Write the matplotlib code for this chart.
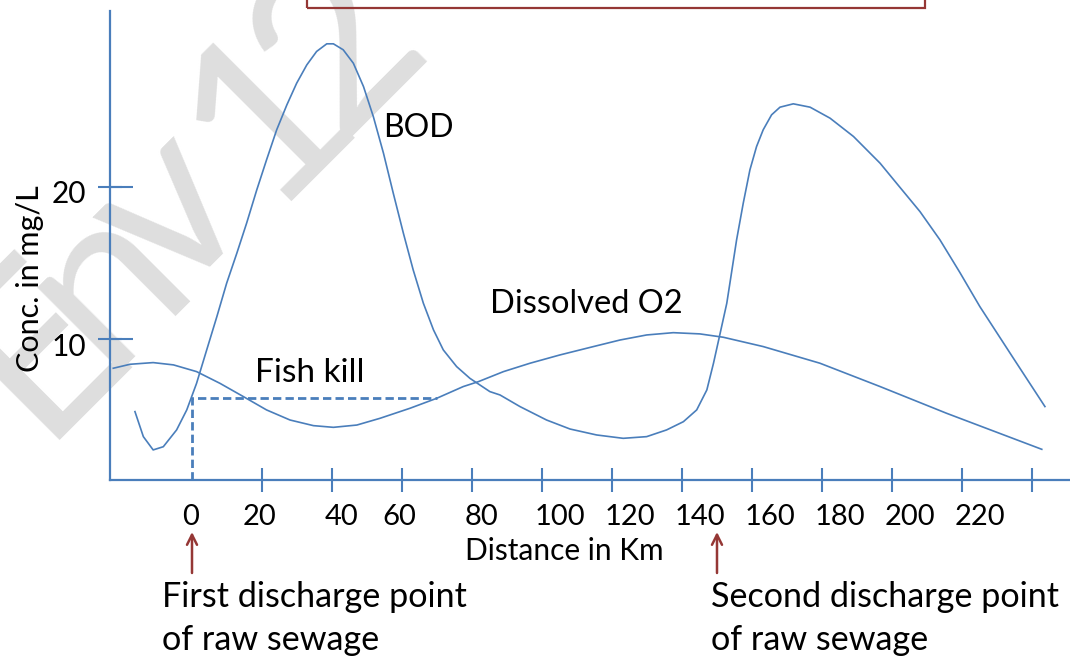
import matplotlib
matplotlib.use('Agg')
import matplotlib.pyplot as plt
from matplotlib.patches import Rectangle
from matplotlib.ticker import FixedLocator
from matplotlib.transforms import ScaledTranslation

plt.rcParams['font.family'] = ['Lato', 'DejaVu Sans']

# distance (km) / concentration (mg/L)
bod_km = [-16.3, -13.9, -11.1, -8.2, -4.4, -1.5, 1.3, 4.2, 7.1, 9.9, 12.8, 15.6,
          18.5, 21.3, 24.2, 27.1, 29.9, 32.8, 35.6, 38.5, 40.4, 43.2, 46.1, 49.0,
          51.8, 54.7, 57.5, 60.4, 63.2, 66.1, 69.0, 71.8, 75.6, 79.4, 85.1, 88.0,
          93.7, 101.3, 108.0, 115.6, 123.2, 129.9, 135.6, 140.4, 144.2, 147.1,
          149.0, 150.9, 152.8, 153.7, 155.6, 157.5, 159.4, 161.3, 163.2, 165.6,
          168.0, 171.8, 176.6, 182.3, 189.0, 196.6, 201.3, 208.0, 213.7, 219.4,
          225.1, 234.7, 243.7]
bod_conc = [5.26, 3.62, 2.75, 2.96, 4.06, 5.37, 7.11, 9.30, 11.48, 13.67, 15.63, 17.60,
            19.78, 21.75, 23.72, 25.35, 26.77, 27.97, 28.85, 29.35, 29.35, 28.96, 28.08, 26.55,
            24.59, 22.19, 19.57, 16.94, 14.54, 12.36, 10.61, 9.30, 8.21, 7.44, 6.57, 6.35,
            5.59, 4.71, 4.12, 3.73, 3.51, 3.62, 4.06, 4.60, 5.37, 6.68,
            8.43, 10.39, 12.36, 13.69, 16.51, 18.91, 21.09, 22.62, 23.72, 24.70,
            25.20, 25.42, 25.20, 24.48, 23.28, 21.53, 20.22, 18.36, 16.51, 14.37,
            12.14, 8.75, 5.59]

do_km = [-22.5, -17.7, -11.1, -5.3, 1.3, 8.0, 14.7, 21.3, 28.0, 34.7, 40.4, 47.1,
         53.7, 62.3, 69.9, 77.5, 81.8, 89.0, 96.6, 105.1, 114.7, 122.3, 129.9, 137.5,
         145.1, 151.8, 163.2, 179.4, 196.6, 215.6, 242.8]
do_conc = [8.10, 8.36, 8.47, 8.32, 7.88, 7.11, 6.24, 5.37, 4.71, 4.34, 4.23, 4.38,
           4.82, 5.48, 6.13, 6.90, 7.22, 7.88, 8.43, 8.97, 9.52, 9.95, 10.28, 10.43,
           10.35, 10.13, 9.52, 8.43, 6.90, 5.15, 2.79]

fish_kill_km = [0, 0, 70]
fish_kill_conc = [0.78, 6.17, 6.17]

xtick_vals = [20, 40, 60, 80, 100, 120, 140, 160, 180, 200, 220, 240]
xlabel_text = ['0', '20', '40', '60', '80', '100', '120', '140', '160', '180', '200', '220']
xlabel_at = [-0.3, 19.4, 42.6, 59.1, 82.6, 105.1, 125.1, 145.1, 165.1, 185.1, 205.1, 225.1]
ytick_vals = [10, 20]
discharge_km = [0, 150]

watermark_chars = ['E', 'n', 'v', '1', '2']
# baseline centres of the watermark glyphs, pixels from the top-left
watermark_px = [(86, 392), (151, 325), (216, 258), (314, 160), (386, 92)]

BLUE = '#4a7ebb'
RED = '#953735'
W, H = 1070, 656


def fx(px):
    return px / W


def fy(py):
    return 1 - py / H


def main():
    fig = plt.figure(figsize=(10.7, 6.56), dpi=100)
    ax = fig.add_axes([fx(110), fy(480), 960 / W, 469 / H])
    ax.set_facecolor('none')

    # faint watermark behind the chart
    for ch, (px, py) in zip(watermark_chars, watermark_px):
        fig.text(fx(px), fy(py), ch, rotation=45, rotation_mode='anchor',
                 ha='center', va='baseline', fontsize=168, color='#dedede',
                 zorder=-1)

    ax.plot(bod_km, bod_conc, color=BLUE, lw=1.2, solid_joinstyle='round')
    ax.plot(do_km, do_conc, color=BLUE, lw=1.2, solid_joinstyle='round')
    ax.plot(fish_kill_km, fish_kill_conc, color=BLUE, lw=2, ls=(0, (3, 1.5)))

    ax.set_xlim(-23.43, 250.86)
    ax.set_ylim(0.78, 31.5)
    for s in ['top', 'right']:
        ax.spines[s].set_visible(False)
    for s in ['left', 'bottom']:
        ax.spines[s].set_color(BLUE)
        ax.spines[s].set_linewidth(1.6)

    ax.set_xticks(xtick_vals)
    ax.tick_params(axis='x', direction='inout', length=16.6, width=1.5,
                   color=BLUE, labelbottom=False)
    ax.set_yticks(ytick_vals)
    ax.set_yticklabels([str(v) for v in ytick_vals])
    ax.tick_params(axis='y', direction='inout', length=17, width=1.5,
                   color=BLUE, labelsize=21.5, pad=8.5)
    shift = ScaledTranslation(0, -5 / 100, fig.dpi_scale_trans)
    for lab in ax.get_yticklabels():
        lab.set_transform(lab.get_transform() + shift)
    ax.yaxis.set_minor_locator(FixedLocator(ytick_vals))
    ax.yaxis.remove_overlapping_locs = False
    ax.tick_params(axis='y', which='minor', direction='in', length=16.5,
                   width=1.5, color=BLUE)

    for lab, xv in zip(xlabel_text, xlabel_at):
        ax.text(xv, -2.17, lab, ha='center', va='baseline', fontsize=21,
                clip_on=False)

    ax.text(54.6, 23.26, 'BOD', fontsize=23, ha='left', va='baseline')
    ax.text(18, 7.2, 'Fish kill', fontsize=24, ha='left', va='baseline')
    ax.text(85.1, 11.72, 'Dissolved O2', fontsize=23.5, ha='left', va='baseline')

    fig.text(fx(30), fy(279), 'Conc. in mg/L', rotation=90,
             ha='center', va='center', fontsize=22)
    fig.text(fx(564), fy(560), 'Distance in Km', ha='center',
             va='baseline', fontsize=21.5)

    for km in discharge_km:
        ax.annotate('', xy=(km, 124), xytext=(km, 83),
                    xycoords=('data', 'figure pixels'),
                    textcoords=('data', 'figure pixels'),
                    arrowprops=dict(arrowstyle='->', color=RED, lw=1.8,
                                    mutation_scale=18, shrinkA=0, shrinkB=0),
                    annotation_clip=False)

    fig.text(fx(162), fy(607), 'First discharge point', ha='left',
             va='baseline', fontsize=24.6)
    fig.text(fx(162), fy(650), 'of raw sewage', ha='left',
             va='baseline', fontsize=24.6)
    fig.text(fx(711), fy(607), 'Second discharge point', ha='left',
             va='baseline', fontsize=24.6)
    fig.text(fx(711), fy(650), 'of raw sewage', ha='left',
             va='baseline', fontsize=24.6)

    fig.patches.append(Rectangle((fx(307), fy(8)), 618 / W, 0.1,
                                 transform=fig.transFigure, fill=False,
                                 edgecolor=RED, lw=1.6))

    fig.savefig('out.png', dpi=100)


if __name__ == '__main__':
    main()
